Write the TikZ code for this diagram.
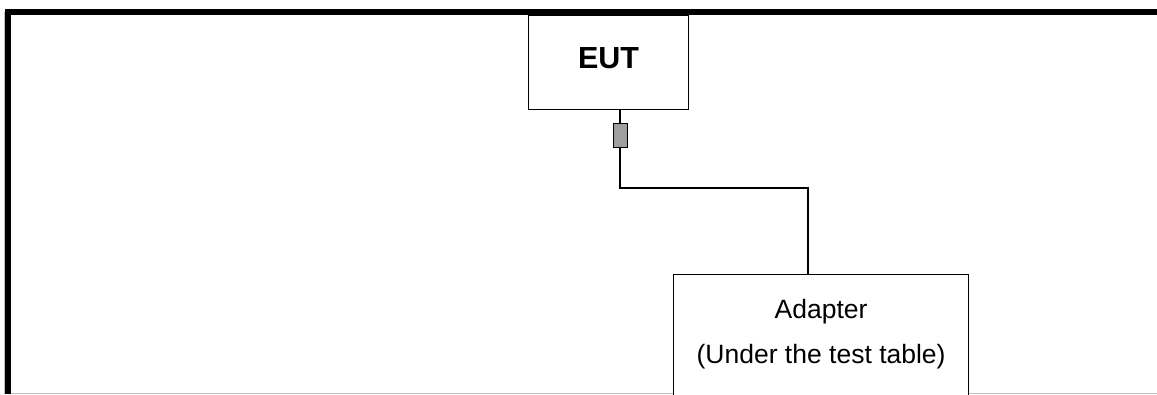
\documentclass[tikz,border=0pt]{standalone}
\usepackage{fontspec}
\setmainfont{Liberation Sans}
\begin{document}
\begin{tikzpicture}[x=1pt,y=-1pt,
  box/.style={draw=black, line width=1.2pt, fill=white, inner sep=0pt},
  wire/.style={draw=black, line width=1.3pt},
  frame/.style={draw=black, line width=5.8pt},
  lbl/.style={font=\fontsize{26.5}{30}\selectfont, anchor=base, inner sep=0pt}]
\useasboundingbox (0,0) rectangle (1157,394);
\clip (0,0) rectangle (1157,394);
% thin gray outer lines
\draw[gray!50, line width=1pt] (4,12) -- (4,393) -- (1157,393);
% thick frame
\draw[frame] (8,394) -- (8,12) -- (1157,12);
% EUT
\node[box, minimum width=160pt, minimum height=94pt, anchor=north west] (eut) at (528,14.5) {};
\node[font=\fontsize{30.5}{34}\selectfont\bfseries, anchor=base, inner sep=0pt] (euttxt) at (eut.center |- 0,68) {EUT};
% connector
\node[draw=black, line width=1pt, fill=gray!75, minimum width=14pt, minimum height=24pt, inner sep=0pt, anchor=north] (conn) at (620,123) {};
% adapter
\node[box, minimum width=295pt, minimum height=160pt, anchor=north west] (adapter) at (673,274) {};
\node[lbl] (a1) at (adapter.north |- 0,318) {Adapter};
\node[lbl] (a2) at (adapter.north |- 0,363) {(Under the test table)};
\coordinate (bend) at (808,188);
\draw[wire] (eut.south -| conn.north) -- (conn.north);
\draw[wire] (conn.south) |- (bend) -- (bend |- adapter.north);
\end{tikzpicture}
\end{document}
